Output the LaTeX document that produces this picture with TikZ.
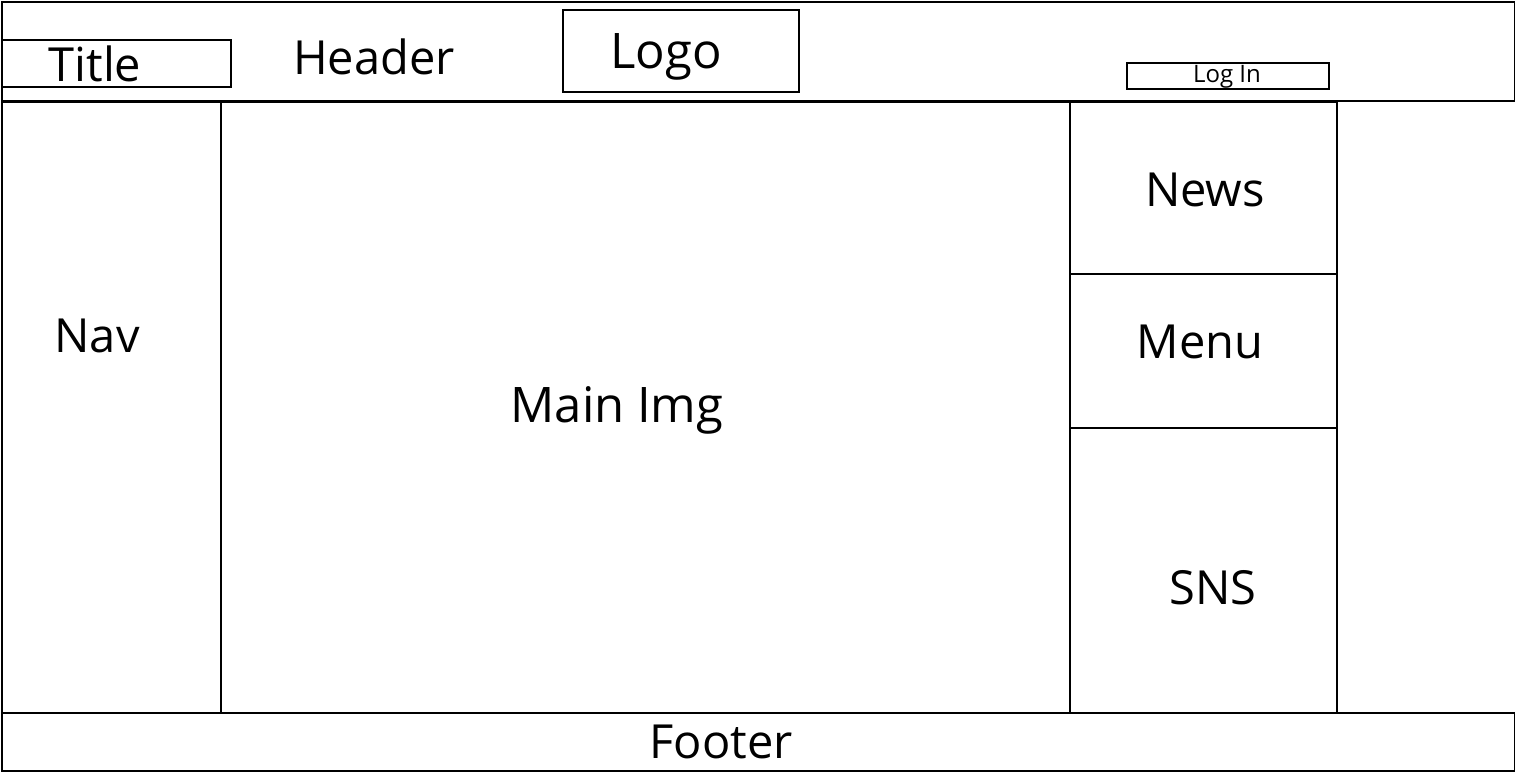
\documentclass[tikz,border=0pt]{standalone}
\usepackage{fontspec}
\setmainfont{Open Sans}
\begin{document}
\begin{tikzpicture}[x=1pt,y=-1pt,
  box/.style={draw=black,line width=2.2pt,fill=none,inner sep=0pt,anchor=north west},
  lbl/.style={inner sep=0pt,anchor=center,font=\fontsize{47}{47}\selectfont},
  big/.style={lbl,font=\fontsize{47}{47}\selectfont}]
\useasboundingbox (0,0) rectangle (1515,771);
% boxes
\node[box,minimum width=1513pt,minimum height=99pt] (header) at (1,1) {};
\node[box,minimum width=229pt,minimum height=47pt] (titlebox) at (1,39) {};
\node[box,minimum width=236pt,minimum height=82pt] (logobox) at (562,9) {};
\node[box,minimum width=202pt,minimum height=26pt] (loginbox) at (1126,62) {};
\node[box,minimum width=219pt,minimum height=611pt] (nav) at (1,101) {};
\node[box,minimum width=849pt,minimum height=611pt] (main) at (220,101) {};
\node[box,minimum width=267pt,minimum height=172pt] (news) at (1069,101) {};
\node[box,minimum width=267pt,minimum height=154pt] (menu) at (1069,273) {};
\node[box,minimum width=267pt,minimum height=285pt] (sns) at (1069,427) {};
\node[box,minimum width=1513pt,minimum height=58pt] (footer) at (1,712) {};
% labels
\node[big] (titletxt) at (95,64) {Title};
\node[lbl] (headertxt) at (374,57) {Header};
\node[lbl,font=\fontsize{49}{49}\selectfont] (logotxt) at (666,57) {Logo};
\node[lbl,font=\fontsize{24}{24}\selectfont] (logintxt) at (1227,77) {Log In};
\node[big] (navtxt) at (97,336) {Nav};
\node[big,font=\fontsize{49}{49}\selectfont] (maintxt) at (617,410) {Main Img};
\node[big] (newstxt) at (1205,190) {News};
\node[big] (menutxt) at (1200,342) {Menu};
\node[big] (snstxt) at (1213,588) {SNS};
\node[big] (footertxt) at (721,742) {Footer};
\end{tikzpicture}
\end{document}
